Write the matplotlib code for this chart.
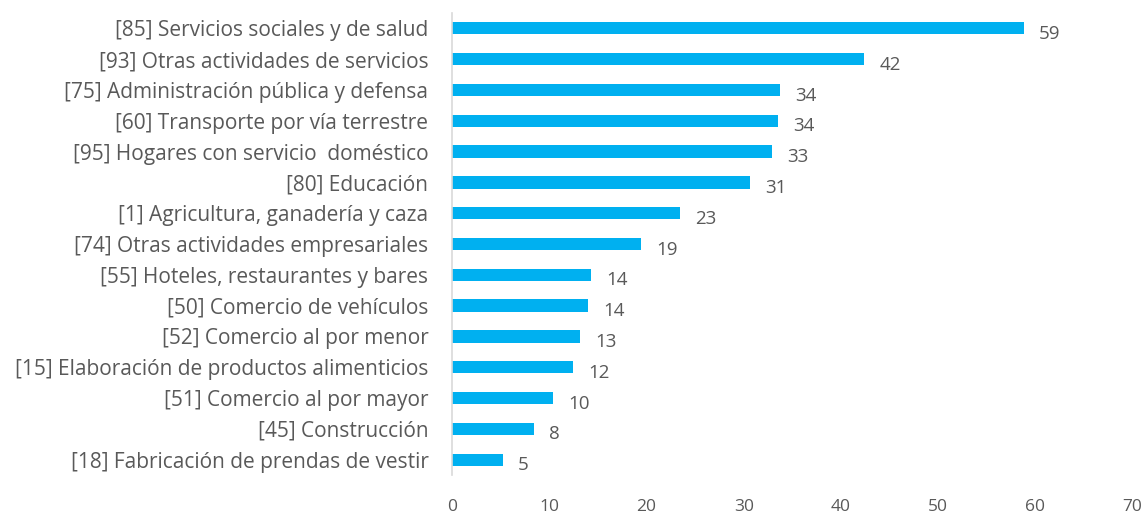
import matplotlib
matplotlib.use("Agg")
import matplotlib.pyplot as plt

plt.rcParams['font.family'] = ['Open Sans', 'DejaVu Sans']

# categories, top to bottom
categories = [
    "[85] Servicios sociales y de salud",
    "[93] Otras actividades de servicios",
    "[75] Administración pública y defensa",
    "[60] Transporte por vía terrestre",
    "[95] Hogares con servicio  doméstico",
    "[80] Educación",
    "[1] Agricultura, ganadería y caza",
    "[74] Otras actividades empresariales",
    "[55] Hoteles, restaurantes y bares",
    "[50] Comercio de vehículos",
    "[52] Comercio al por menor",
    "[15] Elaboración de productos alimenticios",
    "[51] Comercio al por mayor",
    "[45] Construcción",
    "[18] Fabricación de prendas de vestir",
]
values = [58.8, 42.4, 33.7, 33.5, 32.9, 30.6, 23.4, 19.4, 14.3, 14.0, 13.2, 12.4, 10.4, 8.4, 5.2]
x_ticks = [0, 10, 20, 30, 40, 50, 60, 70]

text_color = "#595959"
bar_color = "#00B0F0"

fig = plt.figure(figsize=(11.42, 5.17), dpi=100)
ax = fig.add_axes([0.3958, 0.081, 0.596, 0.894])

pos = list(range(len(categories)))
ax.barh(pos, values, height=0.4, color=bar_color)
ax.set_ylim(len(categories) - 0.5, -0.5)
ax.set_xlim(0, 70)

ax.set_yticks(pos)
ax.set_yticklabels(categories, fontsize=15, color=text_color)
ax.set_xticks(x_ticks)
ax.set_xticklabels([str(t) for t in x_ticks], fontsize=12.5, color=text_color)
ax.tick_params(axis='both', length=0)
ax.tick_params(axis='x', pad=17)
ax.tick_params(axis='y', pad=17)

for s in ['top', 'right', 'bottom']:
    ax.spines[s].set_visible(False)
ax.spines['left'].set_color("#D9D9D9")
ax.spines['left'].set_linewidth(1.2)

for p, v in zip(pos, values):
    ax.annotate(str(int(round(v))), (v, p), xytext=(11, -4), textcoords='offset points',
                ha='left', va='center', fontsize=13.5, color=text_color)

fig.savefig("out.png", dpi=100)
